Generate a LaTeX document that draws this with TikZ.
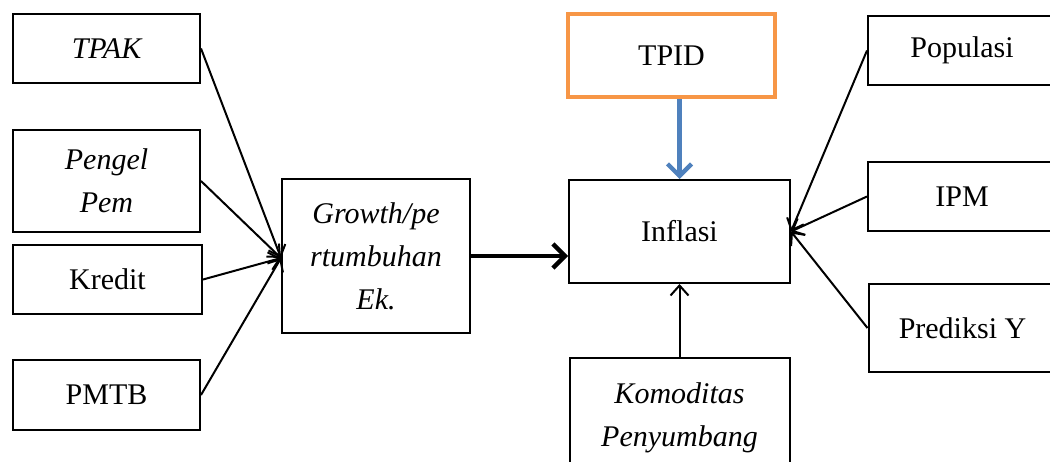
\documentclass[tikz,border=0pt]{standalone}
\usepackage{fontspec}
\setmainfont{Liberation Serif}
\usetikzlibrary{arrows.meta,positioning}
\definecolor{TpidOrange}{HTML}{F79646}
\definecolor{TpidBlue}{HTML}{4F81BD}
\tikzset{
  varbox/.style={draw=black, line width=1pt, align=center, inner sep=2pt, font=\fontsize{15}{21.5}\selectfont},
  itbox/.style={varbox, font=\fontsize{15}{21.5}\selectfont\itshape},
  tpidbox/.style={varbox, draw=TpidOrange, line width=2.2pt},
  arrow/.style={-{Straight Barb[length=5pt,width=9pt]}, line width=1pt, draw=black},
  bigarrow/.style={-{Straight Barb[length=6pt,width=12pt]}, line width=2.2pt, draw=black},
  bluearrow/.style={-{Straight Barb[length=6pt,width=12pt]}, line width=2.2pt, draw=TpidBlue}
}
\begin{document}
\begin{tikzpicture}[x=0.5pt, y=-0.5pt]
    \useasboundingbox (0,0) rectangle (1050,461);
    \clip (0,0) rectangle (1050,461);
    % left block
    \node[itbox, minimum width=93.5pt, minimum height=34.5pt] (tpak) at (106.5,48.5) {TPAK};
    \node[itbox, minimum width=93.5pt, minimum height=51pt] (pengel) at (106.5,181) {Pengel\\Pem};
    \node[varbox, minimum width=94.5pt, minimum height=34.5pt] (kredit) at (107.5,279.5) {Kredit};
    \node[varbox, minimum width=93.5pt, minimum height=35pt] (pmtb) at (106.5,395) {PMTB};
    \node[itbox, minimum width=94pt, minimum height=77pt] (growth) at (376,256) {Growth/pe\\rtumbuhan\\Ek.};
    % middle block
    \node[tpidbox, minimum width=103.5pt, minimum height=41.5pt] (tpid) at (671.5,55.5) {TPID};
    \node[varbox, minimum width=110.5pt, minimum height=51.5pt] (inflasi) at (679.5,231.5) {Inflasi};
    \node[itbox, minimum width=110pt, minimum height=60pt] (komoditas) at (679.5,418) {Komoditas\\Penyumbang};
    % right block
    \node[varbox, minimum width=94pt, minimum height=34.5pt] (populasi) at (962,50.5) {Populasi};
    \node[varbox, minimum width=94pt, minimum height=34.5pt] (ipm) at (962,196.5) {IPM};
    \node[varbox, minimum width=94pt, minimum height=44pt] (prediksi) at (962.5,328) {Prediksi Y};

    \draw[arrow] (tpak.east) -- ([yshift=-1pt]growth.west);
    \draw[arrow] (pengel.east) -- ([yshift=-1pt]growth.west);
    \draw[arrow] (kredit.east) -- ([yshift=-1pt]growth.west);
    \draw[arrow] (pmtb.east) -- ([yshift=-1pt]growth.west);
    \draw[bigarrow] (growth.east) -- (growth.east -| inflasi.west);
    \draw[bluearrow] (tpid.south -| inflasi.north) -- (inflasi.north);
    \draw[arrow] (komoditas.north) -- (inflasi.south);
    \draw[arrow] (populasi.west) -- (inflasi.east);
    \draw[arrow] (ipm.west) -- (inflasi.east);
    \draw[arrow] (prediksi.west) -- (inflasi.east);
  \end{tikzpicture}
\end{document}
